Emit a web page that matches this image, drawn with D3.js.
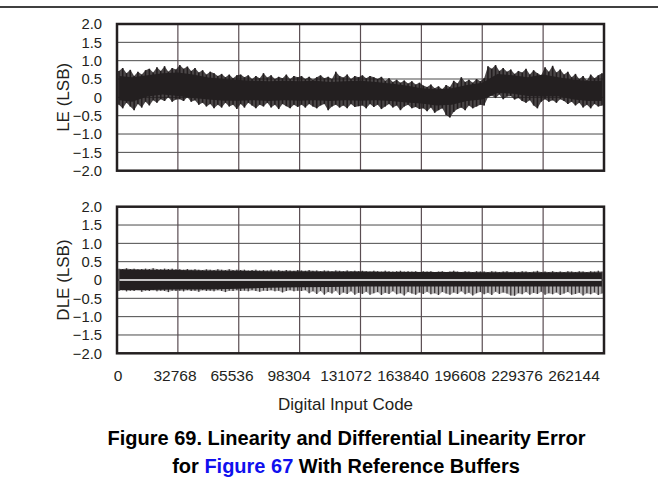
<!DOCTYPE html>
<html>
<head>
<meta charset="utf-8">
<script src="https://cdn.jsdelivr.net/npm/d3@7/dist/d3.min.js"></script>
<style>
html,body{margin:0;padding:0;background:#fff;}
svg{display:block;font-family:"Liberation Sans",Arial,Helvetica,sans-serif;}
</style>
</head>
<body>
<svg id="chart" width="658" height="490"></svg>
<script>
// ---------------- data ----------------
const xTicks = [0, 32768, 65536, 98304, 131072, 163840, 196608, 229376, 262144];
const yTicks = [-2.0, -1.5, -1.0, -0.5, 0, 0.5, 1.0, 1.5, 2.0];
const yTickLabels = ["\u22122.0", "\u22121.5", "\u22121.0", "\u22120.5", "0", "0.5", "1.0", "1.5", "2.0"];

// LE (LSB): spike extremes every 2048 codes
const leStep = 2048;
const leHi = [0.72,0.80,0.66,0.75,0.58,0.70,0.62,0.74,0.78,0.68,0.82,0.72,0.85,0.70,0.80,0.76,
  0.88,0.78,0.84,0.72,0.80,0.68,0.74,0.62,0.70,0.66,0.58,0.64,0.55,0.62,0.52,0.60,
  0.62,0.55,0.60,0.50,0.58,0.52,0.66,0.54,0.60,0.50,0.56,0.52,0.62,0.50,0.58,0.55,
  0.58,0.50,0.56,0.48,0.55,0.60,0.52,0.56,0.50,0.70,0.58,0.54,0.62,0.50,0.58,0.55,
  0.60,0.52,0.58,0.55,0.50,0.56,0.45,0.52,0.42,0.48,0.40,0.46,0.38,0.44,0.35,0.40,
  0.32,0.28,0.35,0.25,0.30,0.22,0.34,0.28,0.45,0.38,0.55,0.42,0.48,0.40,0.50,0.44,
  0.52,0.85,0.78,0.88,0.72,0.80,0.70,0.76,0.64,0.72,0.68,0.78,0.62,0.74,0.66,0.60,
  0.82,0.70,0.86,0.68,0.76,0.62,0.70,0.55,0.64,0.50,0.58,0.46,0.62,0.52,0.60,0.66];
const leLo = [-0.20,-0.30,-0.15,-0.25,-0.35,-0.18,-0.28,-0.12,-0.22,-0.08,-0.15,-0.05,-0.10,0.00,-0.12,-0.06,
  -0.05,-0.10,0.00,-0.12,-0.08,-0.20,-0.15,-0.25,-0.18,-0.30,-0.20,-0.28,-0.15,-0.25,-0.20,-0.32,
  -0.18,-0.28,-0.15,-0.22,-0.30,-0.20,-0.25,-0.15,-0.28,-0.20,-0.32,-0.18,-0.24,-0.30,-0.20,-0.26,
  -0.20,-0.28,-0.18,-0.25,-0.30,-0.22,-0.18,-0.35,-0.25,-0.20,-0.28,-0.22,-0.30,-0.18,-0.26,-0.24,
  -0.22,-0.30,-0.18,-0.26,-0.20,-0.32,-0.25,-0.18,-0.28,-0.22,-0.35,-0.25,-0.20,-0.30,-0.26,-0.32,
  -0.30,-0.38,-0.28,-0.42,-0.35,-0.30,-0.48,-0.55,-0.40,-0.32,-0.28,-0.35,-0.22,-0.30,-0.25,-0.20,
  -0.22,0.00,0.05,-0.02,0.08,-0.05,0.02,0.04,-0.06,-0.02,-0.10,-0.15,-0.08,-0.22,-0.30,-0.12,
  -0.05,-0.12,-0.08,-0.15,-0.05,-0.10,-0.18,-0.12,-0.22,-0.15,-0.28,-0.20,-0.30,-0.18,-0.25,-0.22];
// LE dense band every 8192 codes
const leCoreStep = 8192;
const leCoreHi = [0.58,0.55,0.60,0.66,0.68,0.62,0.54,0.50,0.47,0.45,0.44,0.45,0.44,0.45,0.42,0.44,
  0.45,0.42,0.38,0.32,0.25,0.22,0.25,0.34,0.40,0.64,0.60,0.55,0.62,0.55,0.48,0.45,0.45];
const leCoreLo = [-0.08,-0.12,0.02,0.08,0.04,-0.02,-0.06,-0.09,-0.09,-0.08,-0.10,-0.08,-0.09,-0.08,-0.10,-0.08,
  -0.09,-0.08,-0.10,-0.14,-0.17,-0.22,-0.20,-0.10,-0.06,0.12,0.10,0.04,0.02,0.03,-0.06,-0.10,-0.10];

// DLE (LSB): spike extremes every 2048 codes
const dleStep = 2048;
const dleHi = [0.31,0.30,0.32,0.30,0.31,0.29,0.30,0.31,0.30,0.32,0.30,0.29,0.31,0.30,0.31,0.29,
  0.29,0.28,0.30,0.28,0.29,0.28,0.27,0.29,0.28,0.27,0.29,0.28,0.27,0.29,0.27,0.28,
  0.27,0.28,0.26,0.27,0.28,0.26,0.27,0.26,0.28,0.26,0.27,0.25,0.27,0.26,0.25,0.27,
  0.26,0.25,0.27,0.25,0.26,0.24,0.26,0.25,0.24,0.26,0.25,0.24,0.26,0.24,0.25,0.24,
  0.25,0.24,0.23,0.25,0.24,0.23,0.25,0.24,0.23,0.24,0.25,0.23,0.24,0.23,0.24,0.22,
  0.24,0.23,0.24,0.22,0.23,0.24,0.22,0.23,0.25,0.23,0.22,0.24,0.23,0.22,0.24,0.23,
  0.23,0.22,0.24,0.23,0.22,0.23,0.24,0.22,0.23,0.22,0.24,0.23,0.22,0.23,0.25,0.22,
  0.23,0.22,0.24,0.22,0.23,0.22,0.24,0.23,0.22,0.24,0.23,0.22,0.24,0.23,0.25,0.23];
const dleLo = [-0.30,-0.28,-0.31,-0.29,-0.30,-0.28,-0.32,-0.29,-0.30,-0.28,-0.31,-0.29,-0.30,-0.33,-0.29,-0.30,
  -0.29,-0.31,-0.28,-0.30,-0.29,-0.32,-0.28,-0.30,-0.29,-0.31,-0.28,-0.30,-0.33,-0.29,-0.30,-0.28,
  -0.30,-0.29,-0.31,-0.28,-0.30,-0.32,-0.29,-0.30,-0.28,-0.31,-0.29,-0.34,-0.30,-0.28,-0.31,-0.29,
  -0.30,-0.28,-0.36,-0.31,-0.38,-0.30,-0.40,-0.33,-0.37,-0.29,-0.41,-0.34,-0.38,-0.31,-0.40,-0.35,
  -0.38,-0.32,-0.40,-0.36,-0.33,-0.41,-0.35,-0.38,-0.31,-0.39,-0.36,-0.42,-0.33,-0.37,-0.40,-0.34,
  -0.38,-0.32,-0.39,-0.36,-0.41,-0.33,-0.37,-0.40,-0.34,-0.38,-0.31,-0.39,-0.35,-0.42,-0.36,-0.33,
  -0.39,-0.35,-0.41,-0.32,-0.38,-0.34,-0.37,-0.42,-0.43,-0.36,-0.39,-0.33,-0.40,-0.35,-0.38,-0.32,
  -0.40,-0.36,-0.39,-0.34,-0.41,-0.37,-0.33,-0.40,-0.38,-0.35,-0.42,-0.36,-0.39,-0.34,-0.41,-0.37];
const dleCoreStep = 16384;
const dleCoreHi = [0.29,0.28,0.27,0.26,0.25,0.24,0.24,0.23,0.23,0.22,0.22,0.22,0.21,0.21,0.21,0.21,0.21];
const dleCoreLo = [-0.27,-0.27,-0.26,-0.26,-0.24,-0.21,-0.20,-0.19,-0.18,-0.18,-0.18,-0.18,-0.18,-0.18,-0.18,-0.18,-0.18];

// ---------------- drawing ----------------
const svg = d3.select("#chart");
const ink = "#231f20";

svg.append("line").attr("x1", 0).attr("x2", 658).attr("y1", 7).attr("y2", 7)
  .attr("stroke", "#000").attr("stroke-width", 1.5);

const x = d3.scaleLinear().domain([0, 262144]).range([117, 604]);
const xLab = d3.scaleLinear().domain([0, 262144]).range([118, 574]);

function panel(top, bottom, title, hi, lo, step, coreHi, coreLo, coreStep, opts) {
  const y = d3.scaleLinear().domain([-2, 2]).range([bottom, top]);
  const g = svg.append("g");
  // grid
  g.selectAll("line.h").data(yTicks.slice(1, -1)).join("line")
    .attr("x1", x(0)).attr("x2", x(262144))
    .attr("y1", d => y(d)).attr("y2", d => y(d))
    .attr("stroke", "#4a4a4a").attr("stroke-width", 1);
  g.selectAll("line.v").data(xTicks.slice(1, -1)).join("line")
    .attr("y1", y(2)).attr("y2", y(-2))
    .attr("x1", d => x(d)).attr("x2", d => x(d))
    .attr("stroke", "#5a4d52").attr("stroke-width", 1.2);

  // spikes (vertical strokes between extremes)
  const spikes = hi.map((h, i) => ({c: i * step + step / 2, h: h, l: lo[i]}));
  g.selectAll("line.s").data(spikes).join("line")
    .attr("x1", d => x(d.c)).attr("x2", d => x(d.c))
    .attr("y1", d => y(d.h)).attr("y2", d => y(d.l))
    .attr("stroke", opts.spikeColor).attr("stroke-width", opts.spikeWidth);
  const area = d3.area().x(d => x(d.c)).y0(d => y(d.l)).y1(d => y(d.h));
  g.append("path").datum(spikes).attr("d", area)
    .attr("fill", opts.areaColor).attr("fill-opacity", opts.areaOpacity).attr("stroke", "none");
  // dense core band
  const core = coreHi.map((h, i) => ({c: Math.min(Math.max(i * coreStep, 1300), 261000), h: h, l: coreLo[i]}));
  g.append("path").datum(core).attr("d", area)
    .attr("fill", ink).attr("stroke", "none");

  if (opts.whiteZero) {
    g.append("line").attr("x1", x(1300)).attr("x2", x(260800))
      .attr("y1", y(0)).attr("y2", y(0))
      .attr("stroke", "#fff").attr("stroke-width", 1.4);
  }

  // frame
  g.append("rect").attr("x", x(0)).attr("y", y(2))
    .attr("width", x(262144) - x(0)).attr("height", y(-2) - y(2))
    .attr("fill", "none").attr("stroke", ink).attr("stroke-width", 2.5);

  // y tick labels
  g.selectAll("text.yt").data(yTicks).join("text")
    .attr("x", 102).attr("y", d => y(d)).attr("dy", "0.36em")
    .attr("text-anchor", "end").attr("font-size", 14.8).attr("fill", ink)
    .text((d, i) => yTickLabels[i]);

  // y title
  g.append("text")
    .attr("transform", `translate(69,${(top + bottom) / 2}) rotate(-90)`)
    .attr("text-anchor", "middle").attr("font-size", 17).attr("fill", ink)
    .text(title);
  return y;
}

panel(24, 170.7, "LE (LSB)", leHi, leLo, leStep, leCoreHi, leCoreLo, leCoreStep,
  {spikeColor: ink, spikeWidth: 1.6, areaColor: ink, areaOpacity: 0.82, whiteZero: false});
panel(206.7, 353.3, "DLE (LSB)", dleHi, dleLo, dleStep, dleCoreHi, dleCoreLo, dleCoreStep,
  {spikeColor: "#3a3536", spikeWidth: 1.3, areaColor: "#3a3536", areaOpacity: 0.4, whiteZero: true});

// x tick labels
svg.selectAll("text.xt").data(xTicks).join("text")
  .attr("x", d => xLab(d)).attr("y", 381)
  .attr("text-anchor", "middle").attr("font-size", 15.5).attr("fill", ink)
  .text(d => String(d));

svg.append("text").attr("x", 345.5).attr("y", 410)
  .attr("text-anchor", "middle").attr("font-size", 17).attr("fill", ink)
  .text("Digital Input Code");

svg.append("text").attr("x", 346.5).attr("y", 445)
  .attr("text-anchor", "middle").attr("font-size", 20).attr("font-weight", "bold").attr("fill", "#000")
  .text("Figure 69. Linearity and Differential Linearity Error");
const cap2 = svg.append("text").attr("x", 346).attr("y", 472.5)
  .attr("text-anchor", "middle").attr("font-size", 20).attr("font-weight", "bold").attr("fill", "#000");
cap2.append("tspan").text("for ");
cap2.append("tspan").attr("fill", "#1010ee").text("Figure 67");
cap2.append("tspan").text(" With Reference Buffers");
</script>
</body>
</html>
